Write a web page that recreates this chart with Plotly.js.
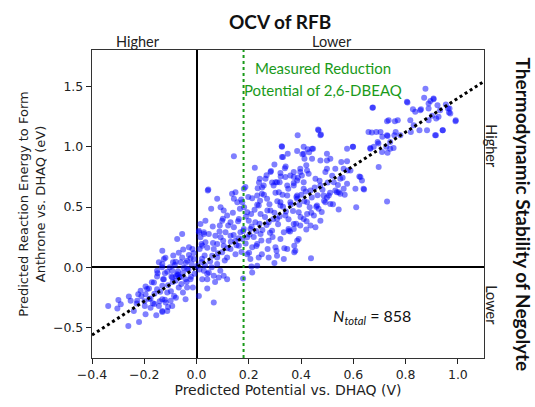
<!DOCTYPE html>
<html>
<head>
<meta charset="utf-8">
<script src="https://cdn.plot.ly/plotly-3.0.1.min.js"></script>
<style>html,body{margin:0;padding:0;background:#fff;}#chart{width:535px;height:407px;}</style>
</head>
<body>
<div id="chart"></div>
<script>
// ---- Data ----
// Upper-right cluster
const potA = [0.876,0.807,0.871,0.888,0.895,0.907,0.922,0.932,0.954,0.962,0.966,0.901,0.917,0.888,0.991,0.942,0.913,0.882,0.853,0.831,0.818,0.837,0.859,0.82,0.78,0.762,0.759,0.729,0.673,0.658,0.671,0.688,0.704,0.711,0.731,0.741,0.754,0.741,0.726,0.696,0.678,0.665,0.71,0.731,0.697,0.598,0.576,0.467,0.476,0.425,0.446,0.563,0.589,0.627,0.633,0.639,0.608,0.576,0.563,0.55,0.531,0.531,0.499,0.499];
const engA = [1.48,1.366,1.405,1.357,1.377,1.393,1.343,1.302,1.349,1.316,1.283,1.255,1.233,1.219,1.21,1.136,1.094,1.136,1.136,1.177,1.219,1.288,1.31,1.122,1.094,1.122,1.21,1.21,1.322,1.122,1.116,1.122,1.122,1.081,1.089,1.039,0.989,0.983,0.998,1.025,0.998,0.989,0.956,0.95,0.831,0.998,0.878,1.136,1.1,0.978,0.983,0.817,0.803,0.748,0.72,0.651,0.651,0.692,0.651,0.609,0.637,0.817,0.886,0.817];
const potB = [0.805,0.907,0.828,0.856,0.888,0.926,0.968,0.971,0.992,0.942,0.916,0.675,0.757,0.77,0.735,0.729,0.693,0.665,0.729,0.465,0.474,0.387,0.327,0.331,0.41,0.442,0.576,0.599,0.554,0.623,0.611,0.544,0.567];
const engB = [1.371,1.399,1.31,1.302,1.316,1.247,1.316,1.274,1.219,1.136,1.094,1.324,1.094,1.219,1.219,1.094,1.039,0.983,0.545,1.141,1.094,1.094,0.998,0.914,0.942,0.983,0.983,0.998,0.873,0.753,0.499,0.623,0.601];
// Middle-right, lower part
const potC = [0.544,0.641,0.512,0.474,0.455,0.436,0.42,0.397,0.391,0.374,0.374,0.336,0.438,0.306,0.298,0.334,0.353,0.372,0.41,0.423,0.449,0.467,0.493,0.506,0.213];
const engC = [0.479,0.645,0.526,0.387,0.332,0.346,0.313,0.346,0.235,0.18,0.125,0.158,0.075,0.138,0.036,0.291,0.304,0.318,0.401,0.443,0.429,0.485,0.54,0.595,-0.042];
// Dense middle band
const potD = [0.056,0.047,0.028,0.015,0.034,0.022,0.043,0.066,0.079,0.06,0.079,0.098,0.104,0.092,0.111,0.089,0.098,0.117,0.104,0.136,0.149,0.143,0.13,0.143,0.13,0.149,0.13,0.117,0.149,0.162,0.168,0.162,0.166,0.175,0.187,0.194,0.2,0.206,0.194,0.213,0.194,0.206,0.21,0.232,0.238,0.25,0.232,0.245,0.225,0.245,0.238,0.232,0.257,0.27,0.283,0.276,0.289,0.276,0.302,0.276,0.308,0.321,0.308,0.321,0.315,0.302,0.347,0.359,0.34,0.352,0.372,0.391,0.385,0.41,0.385,0.378,0.347,0.334,0.079,0.092,0.034,0.015,0.009,0.181,0.175];
const engD = [0.485,0.277,0.291,0.249,0.208,0.18,0.637,0.152,0.194,0.096,0.083,0.125,0.18,0.249,0.291,0.346,0.387,0.429,0.471,0.609,0.623,0.568,0.374,0.332,0.263,0.221,0.152,0.083,0.11,0.18,0.291,0.401,0.485,0.54,0.665,0.457,0.387,0.318,0.249,0.166,0.11,0.069,0.008,0.013,0.083,0.11,0.194,0.277,0.374,0.443,0.512,0.595,0.678,0.568,0.471,0.374,0.304,0.221,0.166,0.083,0.096,0.235,0.401,0.512,0.623,0.706,0.678,0.54,0.429,0.318,0.36,0.457,0.568,0.651,0.221,0.138,0.152,0.069,0.568,0.499,0.387,0.36,0.304,0.318,0.235];
// Upper-middle scatter
const potE = [0.143,0.223,0.285,0.242,0.264,0.326,0.327,0.349,0.385,0.405,0.413,0.431,0.341,0.321,0.34,0.372,0.397,0.403,0.42,0.372,0.429,0.385,0.045,0.181,0.234,0.25,0.295,0.318,0.213,0.156];
const engE = [0.92,0.825,0.798,0.734,0.734,1.003,0.914,0.942,0.964,0.936,0.9,0.953,0.836,0.781,0.748,0.79,0.817,0.761,0.845,0.748,0.776,0.72,0.645,0.651,0.656,0.609,0.678,0.706,0.573,0.54];
const potF = [0.283,0.308,0.359,0.372,0.397,0.41,0.436,0.455,0.474,0.486,0.493,0.512,0.499,0.474,0.442,0.423,0.385,0.347,0.321,0.423,0.461,0.525,0.537,0.55,0.41];
const engF = [0.79,0.706,0.761,0.678,0.79,0.706,0.637,0.734,0.678,0.595,0.79,0.9,0.942,0.886,0.9,0.803,0.595,0.595,0.54,0.54,0.512,0.706,0.623,0.734,0.998];
// Lower-left cluster
const potG = [-0.338,-0.299,-0.29,-0.303,-0.259,-0.252,-0.24,-0.261,-0.22,-0.223,-0.214,-0.195,-0.195,-0.198,-0.195,-0.176,-0.167,-0.154,-0.182,-0.163,-0.151,-0.151,-0.151,-0.131,-0.125,-0.144,-0.131,-0.112,-0.125,-0.131,-0.112,-0.131,-0.118,-0.099,-0.131,-0.112,-0.093,-0.086,-0.096,-0.093,-0.074,-0.08,-0.068,-0.052,-0.042,-0.036,-0.042,-0.052,-0.061,-0.08,-0.09,-0.055,-0.036,-0.023,-0.01,-0.036,-0.023,-0.014,-0.074,-0.055,-0.029,-0.016,0.009,0.028,0.019,-0.093,-0.144,-0.227];
const engG = [-0.319,-0.269,-0.305,-0.341,-0.241,-0.277,-0.36,-0.485,-0.452,-0.222,-0.194,-0.158,-0.222,-0.319,-0.388,-0.258,-0.297,-0.397,-0.175,-0.125,-0.18,-0.028,-0.075,0.138,0.069,0.042,0.028,-0.036,-0.097,-0.152,-0.208,-0.263,-0.291,-0.277,-0.36,-0.36,-0.319,-0.236,-0.075,-0.028,-0.056,-0.111,-0.166,-0.208,-0.263,-0.166,-0.097,-0.047,0.042,0.047,0.042,0.083,0.055,0.075,0.069,-0.014,-0.097,-0.166,0.235,0.277,0.166,0.152,0.291,0.277,0.194,-0.083,-0.319,-0.277];
const potH = [-0.131,0.066,0.041,0.009,0.022,0.041,0.066,0.085,0.117,0.104,0.178,0.047,0.028,-0.176];
const engH = [-0.369,-0.291,-0.175,-0.236,-0.097,-0.097,-0.069,-0.083,-0.097,-0.069,-0.092,-0.042,-0.028,-0.333];
// Dense core (middle)
const potI = [0.063,0.072,0.088,0.102,0.118,0.131,0.142,0.153,0.161,0.172,0.188,0.203,0.211,0.219,0.228,0.241,0.252,0.262,0.268,0.281,0.293,0.298,0.312,0.318,0.331,0.342,0.352,0.361,0.369,0.382,0.393,0.401,0.412,0.418,0.433,0.441,0.452,0.463,0.471,0.482,0.488,0.502,0.511,0.519,0.031,0.041,0.052,0.082,0.108,0.021,0.062,0.101,0.121,0.139,0.182,0.198,0.222,0.243,0.258,0.279,0.302,0.271,0.309,0.329,0.351,0.372,0.388,0.358,0.381,0.398,0.421,0.439,0.458,0.479,0.499,0.522,0.541,0.559,0.578,0.159,0.179,0.201,0.229,0.248,0.272,0.291,0.189,0.209,0.171,0.232,0.251,0.289,0.322,0.338,0.298,0.268,0.239];
const engI = [0.203,0.262,0.298,0.221,0.158,0.212,0.268,0.183,0.241,0.128,0.198,0.272,0.338,0.251,0.302,0.362,0.309,0.418,0.352,0.288,0.398,0.452,0.358,0.421,0.502,0.462,0.398,0.521,0.468,0.582,0.518,0.602,0.548,0.628,0.498,0.578,0.662,0.598,0.718,0.642,0.552,0.702,0.618,0.758,0.098,0.162,0.048,0.118,0.058,0.072,0.338,0.402,0.348,0.452,0.498,0.582,0.478,0.552,0.602,0.522,0.618,0.472,0.548,0.602,0.652,0.698,0.742,0.298,0.362,0.418,0.382,0.452,0.502,0.458,0.578,0.522,0.682,0.742,0.802,0.382,0.302,0.122,0.178,0.222,0.152,0.252,0.422,0.442,0.562,0.518,0.662,0.702,0.752,0.822,0.852,0.762,0.702];
// Dense core (near origin)
const potJ = [-0.121,-0.102,-0.083,-0.071,-0.062,-0.049,-0.041,-0.031,-0.019,-0.008,0.002,0.011,0.019,-0.091,-0.109,-0.128,-0.139,-0.161,-0.181,-0.199,-0.171,-0.189,-0.211,-0.229,-0.098,-0.079,-0.058,-0.038,-0.021,-0.089,-0.068,-0.051,-0.029,-0.011,0.012,0.032,0.041,0.058,0.079,0.091,0.071,-0.149,-0.132,-0.119,-0.161,-0.121,-0.109,-0.141,-0.071,-0.066,-0.078];
const engJ = [-0.048,0.002,0.021,-0.032,-0.079,-0.002,0.038,-0.019,0.031,-0.052,0.012,-0.018,0.042,-0.121,-0.148,-0.098,-0.201,-0.218,-0.262,-0.281,-0.122,-0.178,-0.238,-0.298,-0.198,-0.252,-0.138,-0.121,-0.078,0.098,0.121,0.148,0.102,0.118,0.152,0.018,-0.052,0.002,0.028,-0.028,-0.121,-0.048,0.002,0.081,-0.302,-0.268,-0.328,-0.281,-0.062,-0.082,-0.071];

// Fitted line and reference potential
const fitX = [-0.4, 1.1];
const fitY = [-0.56, 1.54];
const measuredPotential = 0.18;
const nTotal = 858;

const xTicks = [-0.4,-0.2,0.0,0.2,0.4,0.6,0.8,1.0];
const yTicks = [-0.5,0.0,0.5,1.0,1.5];

const allPot = [].concat(potA,potB,potC,potD,potE,potF,potG,potH,potI,potJ);
const allEng = [].concat(engA,engB,engC,engD,engE,engF,engG,engH,engI,engJ);

const calib = "Lato";
const dv = "DejaVu Sans";

const traces = [
  {x: allPot, y: allEng, type: 'scatter', mode: 'markers',
   marker: {color: 'rgba(0,0,255,0.5)', size: 6, line: {width: 0}},
   hoverinfo: 'skip', showlegend: false},
  {x: fitX, y: fitY, type: 'scatter', mode: 'lines',
   line: {color: '#000', width: 3, dash: 'dot'}, showlegend: false, hoverinfo: 'skip'}
];

const layout = {
  width: 535, height: 407,
  margin: {l: 92, r: 51, t: 50, b: 49},
  paper_bgcolor: '#fff', plot_bgcolor: '#fff',
  showlegend: false,
  xaxis: {
    range: [-0.4, 1.1], tickvals: xTicks, tickformat: '.1f',
    ticks: 'outside', ticklen: 5, tickwidth: 1, tickcolor: '#222',
    showline: true, linecolor: '#333', linewidth: 1.2, mirror: true,
    showgrid: false, zeroline: true, zerolinecolor: '#000', zerolinewidth: 2,
    tickfont: {family: dv, size: 12.5, color: '#222'},
    title: {text: 'Predicted Potential vs. DHAQ (V)', font: {family: dv, size: 14, color: '#222'}, standoff: 3}
  },
  yaxis: {
    range: [-0.75, 1.8], tickvals: yTicks, tickformat: '.1f',
    ticks: 'outside', ticklen: 5, tickwidth: 1, tickcolor: '#222',
    showline: true, linecolor: '#333', linewidth: 1.2, mirror: true,
    showgrid: false, zeroline: true, zerolinecolor: '#000', zerolinewidth: 2,
    tickfont: {family: dv, size: 12.5, color: '#222'},
    title: {text: 'Predicted Reaction Energy to Form<br>Anthrone vs. DHAQ (eV)', font: {family: dv, size: 13, color: '#222'}, standoff: 4}
  },
  shapes: [
    {type: 'line', xref: 'x', yref: 'paper', x0: measuredPotential, x1: measuredPotential, y0: 0, y1: 1,
     line: {color: '#1a9a1a', width: 2, dash: 'dot'}, layer: 'above'}
  ],
  annotations: [
    {text: '<b>OCV of RFB</b>', xref: 'paper', yref: 'paper', x: 0.48, y: 1.091, showarrow: false,
     xanchor: 'center', yanchor: 'middle', font: {family: calib, size: 19, color: '#111'}},
    {text: 'Higher', xref: 'paper', yref: 'paper', x: 0.117, y: 1.029, showarrow: false,
     xanchor: 'center', yanchor: 'middle', font: {family: calib, size: 14.5, color: '#222'}},
    {text: 'Lower', xref: 'paper', yref: 'paper', x: 0.612, y: 1.029, showarrow: false,
     xanchor: 'center', yanchor: 'middle', font: {family: calib, size: 14.5, color: '#222'}},
    {text: 'Higher', xref: 'paper', yref: 'paper', x: 1.02, y: 0.688, showarrow: false, textangle: 90,
     xanchor: 'center', yanchor: 'middle', font: {family: calib, size: 14.5, color: '#222'}},
    {text: 'Lower', xref: 'paper', yref: 'paper', x: 1.02, y: 0.172, showarrow: false, textangle: 90,
     xanchor: 'center', yanchor: 'middle', font: {family: calib, size: 14.5, color: '#222'}},
    {text: '<b>Thermodynamic Stability of Negolyte</b>', xref: 'paper', yref: 'paper', x: 1.1, y: 0.465, showarrow: false, textangle: 90,
     xanchor: 'center', yanchor: 'middle', font: {family: calib, size: 19, color: '#111'}},
    {text: 'Measured Reduction', xref: 'x', yref: 'y', x: 0.485, y: 1.648, showarrow: false,
     xanchor: 'center', yanchor: 'middle', font: {family: calib, size: 15, color: '#1a9a1a'}},
    {text: 'Potential of 2,6-DBEAQ', xref: 'x', yref: 'y', x: 0.485, y: 1.466, showarrow: false,
     xanchor: 'center', yanchor: 'middle', font: {family: calib, size: 15, color: '#1a9a1a'}},
    {text: '<i>N</i><sub><i>total</i></sub> = ' + nTotal, xref: 'x', yref: 'y', x: 0.672, y: -0.405, showarrow: false,
     xanchor: 'center', yanchor: 'middle', font: {family: calib, size: 16, color: '#111'}}
  ]
};

Plotly.newPlot('chart', traces, layout, {staticPlot: true, displayModeBar: false});
</script>
</body>
</html>
